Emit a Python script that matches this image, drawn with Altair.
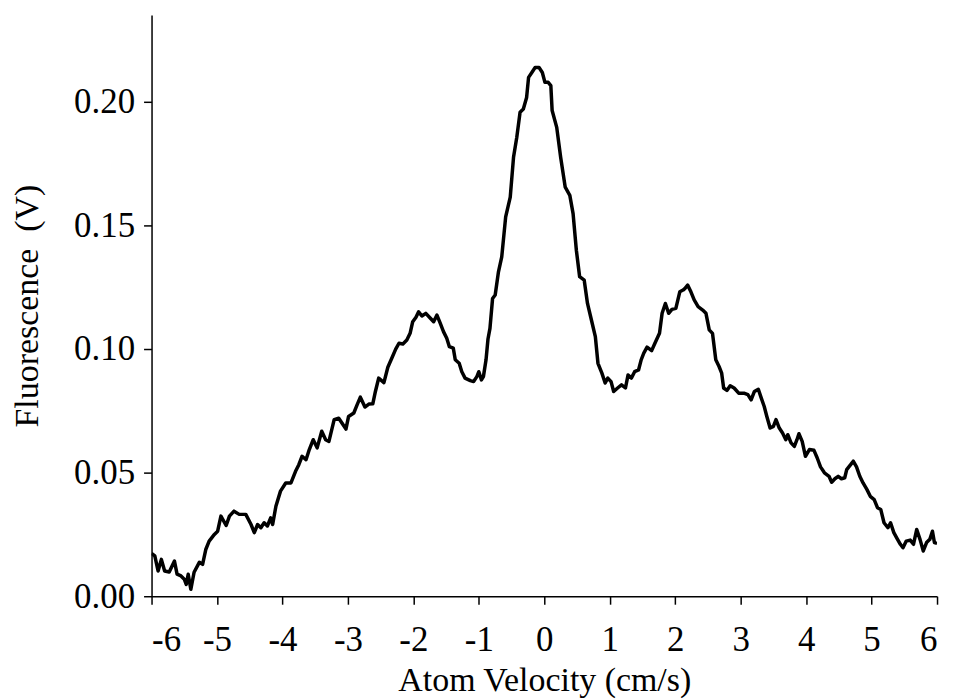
import altair as alt
import pandas as pd

velocity = [
    -6.00, -5.95, -5.90, -5.85, -5.80, -5.73, -5.65, -5.61, -5.55, -5.50,
    -5.47, -5.44, -5.40, -5.35, -5.27, -5.22, -5.17, -5.12, -5.04, -4.99,
    -4.94, -4.86, -4.81, -4.74, -4.66, -4.56, -4.48, -4.43, -4.38, -4.33,
    -4.28, -4.23, -4.18, -4.15, -4.10, -4.03, -3.95, -3.87, -3.80, -3.75,
    -3.70, -3.64, -3.59, -3.53, -3.47, -3.40, -3.34, -3.29, -3.21, -3.14,
    -3.03, -2.99, -2.91, -2.86, -2.81, -2.74, -2.68, -2.62, -2.58, -2.53,
    -2.45, -2.39, -2.33, -2.27, -2.22, -2.16, -2.10, -2.05, -2.01, -1.96,
    -1.92, -1.87, -1.81, -1.74, -1.69, -1.64, -1.59, -1.54, -1.49, -1.45,
    -1.39, -1.36, -1.30, -1.26, -1.21, -1.13, -1.08, -1.03, -1.00, -0.96,
    -0.93, -0.89, -0.86, -0.83, -0.79, -0.75, -0.70, -0.65, -0.59, -0.52,
    -0.47, -0.42, -0.37, -0.32, -0.27, -0.24, -0.19, -0.14, -0.08, -0.03,
    0.01, 0.06, 0.10, 0.12, 0.19, 0.25, 0.32, 0.39, 0.44, 0.49,
    0.54, 0.61, 0.66, 0.72, 0.78, 0.82, 0.88, 0.93, 0.97, 1.02,
    1.06, 1.12, 1.18, 1.24, 1.28, 1.33, 1.38, 1.44, 1.48, 1.52,
    1.57, 1.64, 1.69, 1.76, 1.80, 1.85, 1.90, 1.95, 2.01, 2.07,
    2.12, 2.15, 2.19, 2.24, 2.29, 2.35, 2.42, 2.47, 2.52, 2.57,
    2.62, 2.67, 2.71, 2.74, 2.79, 2.84, 2.90, 2.97, 3.05, 3.11,
    3.16, 3.21, 3.27, 3.31, 3.36, 3.40, 3.45, 3.50, 3.54, 3.59,
    3.64, 3.69, 3.72, 3.77, 3.82, 3.86, 3.89, 3.94, 3.99, 4.05,
    4.12, 4.17, 4.22, 4.28, 4.35, 4.39, 4.44, 4.49, 4.54, 4.59,
    4.62, 4.68, 4.72, 4.77, 4.82, 4.87, 4.93, 4.98, 5.04, 5.09,
    5.14, 5.19, 5.25, 5.29, 5.34, 5.39, 5.44, 5.48, 5.53, 5.59,
    5.64, 5.69, 5.74, 5.79, 5.84, 5.89, 5.93, 5.96, 6.00,
]

fluorescence = [
    0.0173, 0.0163, 0.0102, 0.0149, 0.0102, 0.0098, 0.0142, 0.0089, 0.0082, 0.0069,
    0.0048, 0.0089, 0.0028, 0.0097, 0.0137, 0.0129, 0.0190, 0.0223, 0.0250, 0.0263,
    0.0324, 0.0286, 0.0324, 0.0344, 0.0331, 0.0331, 0.0290, 0.0257, 0.0290, 0.0277,
    0.0297, 0.0284, 0.0317, 0.0290, 0.0364, 0.0425, 0.0458, 0.0458, 0.0505, 0.0532,
    0.0566, 0.0552, 0.0593, 0.0633, 0.0600, 0.0667, 0.0633, 0.0626, 0.0714, 0.0720,
    0.0676, 0.0727, 0.0741, 0.0774, 0.0805, 0.0765, 0.0777, 0.0778, 0.0828, 0.0882,
    0.0864, 0.0926, 0.0962, 0.0999, 0.1023, 0.1020, 0.1036, 0.1063, 0.1110, 0.1128,
    0.1150, 0.1133, 0.1144, 0.1124, 0.1110, 0.1137, 0.1104, 0.1070, 0.1043, 0.1009,
    0.1003, 0.0956, 0.0942, 0.0908, 0.0882, 0.0872, 0.0868, 0.0888, 0.0908, 0.0875,
    0.0888, 0.0956, 0.1040, 0.1083, 0.1204, 0.1218, 0.1312, 0.1372, 0.1534, 0.1614,
    0.1775, 0.1856, 0.1957, 0.1970, 0.2017, 0.2098, 0.2118, 0.2138, 0.2138, 0.2118,
    0.2078, 0.2078, 0.2065, 0.1964, 0.1896, 0.1775, 0.1654, 0.1621, 0.1547, 0.1399,
    0.1292, 0.1278, 0.1184, 0.1117, 0.1050, 0.0942, 0.0902, 0.0862, 0.0882, 0.0868,
    0.0828, 0.0842, 0.0855, 0.0842, 0.0895, 0.0882, 0.0908, 0.0915, 0.0956, 0.0983,
    0.1007, 0.0993, 0.1023, 0.1063, 0.1144, 0.1184, 0.1144, 0.1160, 0.1164, 0.1231,
    0.1238, 0.1245, 0.1258, 0.1231, 0.1198, 0.1171, 0.1157, 0.1144, 0.1077, 0.1063,
    0.0956, 0.0929, 0.0902, 0.0842, 0.0832, 0.0851, 0.0842, 0.0821, 0.0821, 0.0815,
    0.0794, 0.0828, 0.0837, 0.0805, 0.0767, 0.0727, 0.0680, 0.0687, 0.0714, 0.0680,
    0.0660, 0.0633, 0.0653, 0.0620, 0.0606, 0.0633, 0.0657, 0.0626, 0.0566, 0.0593,
    0.0590, 0.0559, 0.0523, 0.0499, 0.0485, 0.0461, 0.0475, 0.0485, 0.0475, 0.0479,
    0.0512, 0.0532, 0.0546, 0.0523, 0.0485, 0.0458, 0.0431, 0.0404, 0.0391, 0.0358,
    0.0351, 0.0297, 0.0277, 0.0297, 0.0257, 0.0233, 0.0210, 0.0196, 0.0223, 0.0227,
    0.0210, 0.0270, 0.0230, 0.0183, 0.0217, 0.0230, 0.0263, 0.0217, 0.0214,
]

x_ticks = [-6, -5, -4, -3, -2, -1, 0, 1, 2, 3, 4, 5, 6]
y_ticks = [0.0, 0.05, 0.10, 0.15, 0.20]

df = pd.DataFrame({"v": velocity, "f": fluorescence})

FONT = "Liberation Serif"

chart = (
    alt.Chart(df)
    .mark_line(color="black", strokeWidth=3.5, strokeJoin="round", clip=True)
    .encode(
        x=alt.X(
            "v:Q",
            scale=alt.Scale(domain=[-6, 6], nice=False, zero=False),
            axis=alt.Axis(
                title="Atom Velocity (cm/s)",
                values=x_ticks,
                labelExpr="'' + datum.value",
                grid=False,
                tickSize=8,
                labelPadding=18,
                titlePadding=7,
            ),
        ),
        y=alt.Y(
            "f:Q",
            scale=alt.Scale(domain=[0, 0.235], nice=False, zero=True),
            axis=alt.Axis(
                title="Fluorescence\u00a0 (V)",
                values=y_ticks,
                format=".2f",
                grid=False,
                tickSize=8,
                labelPadding=9,
                titlePadding=29,
            ),
        ),
    )
    .properties(
        width=788,
        height=583,
        autosize=alt.AutoSizeParams(type="none"),
        padding={"left": 144, "top": 6, "right": 10, "bottom": 103},
    )
    .configure_view(stroke=None)
    .configure_axis(
        domainColor="black",
        domainWidth=1.5,
        tickColor="black",
        tickWidth=1.5,
        labelFont=FONT,
        labelFontSize=35,
        labelColor="black",
        titleFont=FONT,
        titleFontSize=34,
        titleFontWeight="normal",
        titleColor="black",
    )
)

chart.save("out.html", embed_options={"renderer": "svg", "actions": False})
